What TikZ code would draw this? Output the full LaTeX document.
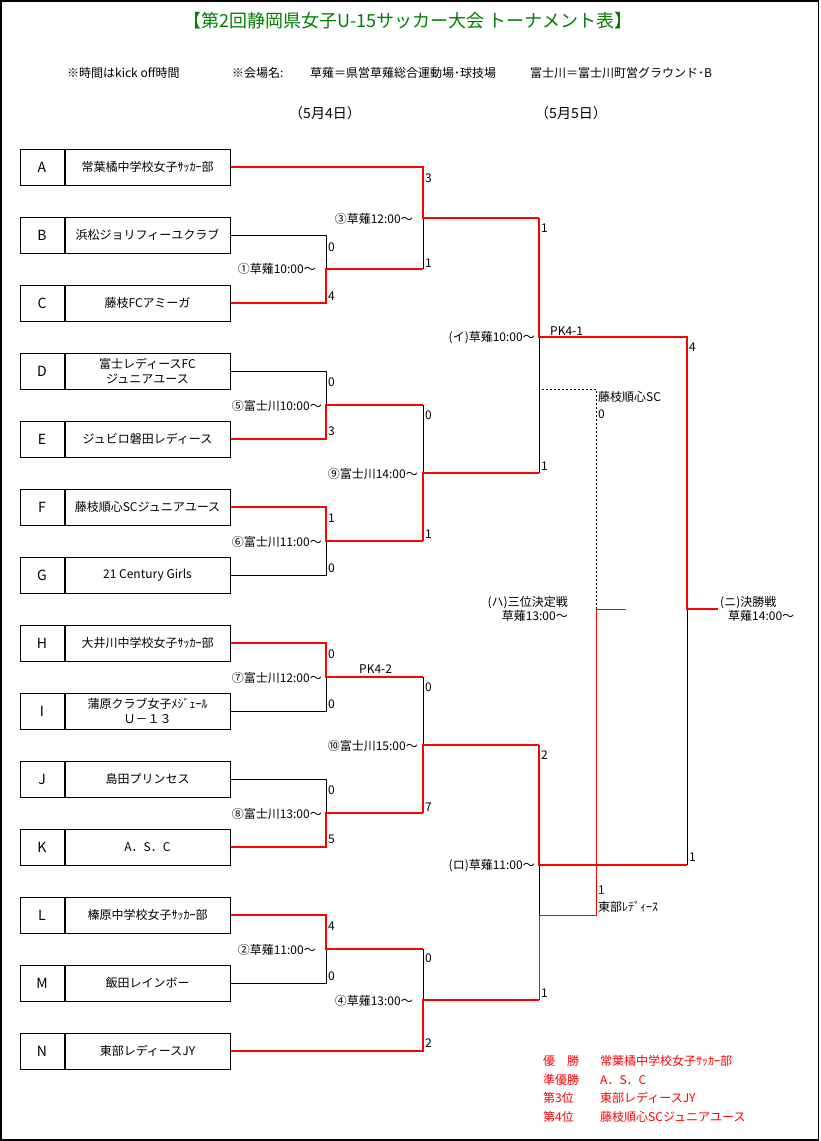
\documentclass[tikz,border=0pt]{standalone}
\usepackage{fontspec}
\newfontfamily\jpfont{Noto Sans CJK JP}
\usetikzlibrary{positioning}
\definecolor{winred}{RGB}{255,0,0}
\definecolor{titlegreen}{RGB}{0,128,0}
\tikzstyle{letter} = [rectangle, minimum width=44pt, minimum height=36pt, inner sep=0pt, draw=black, line width=1pt, font=\jpfont\fontsize{14pt}{16pt}\selectfont]
\tikzstyle{teamname} = [rectangle, minimum width=165pt, minimum height=36pt, inner sep=0pt, text centered, align=center, draw=black, line width=1pt, font=\jpfont\fontsize{12pt}{15pt}\selectfont]
\tikzstyle{win} = [line width=2pt, winred]
\tikzstyle{winthin} = [line width=1pt, winred]
\tikzstyle{lose} = [line width=1pt, black]
\tikzstyle{route} = [line width=1pt, black, dash pattern=on 2pt off 2pt]
\tikzstyle{score} = [anchor=west, inner sep=0pt, font=\jpfont\fontsize{12pt}{14pt}\selectfont]
\tikzstyle{matchlabel} = [anchor=east, inner sep=0pt, font=\jpfont\fontsize{12pt}{14pt}\selectfont]
\tikzstyle{note} = [anchor=west, inner sep=0pt, font=\jpfont\fontsize{12pt}{14pt}\selectfont]
\tikzstyle{legend} = [anchor=west, inner sep=0pt, text=winred, font=\jpfont\fontsize{12pt}{14pt}\selectfont]

\begin{document}
\begin{tikzpicture}[x=1pt, y=-1pt]
\useasboundingbox (0,0) rectangle (820,1141);
\draw [line width=1.5pt] (1,1) rectangle (818.5,1140);

% header
\node (title) [font=\jpfont\fontsize{18pt}{20pt}\selectfont, text=titlegreen] at (408,21) {【第2回静岡県女子U-15サッカー大会 トーナメント表】};
\node (kickoff) [note] at (67,73) {※時間はkick off時間};
\node (venue) [note] at (232,73) {※会場名:};
\node (kusanagi) [note] at (310,73) {草薙＝県営草薙総合運動場･球技場};
\node (fujikawa) [note] at (530,73) {富士川＝富士川町営グラウンド･B};
\node (day1) [font=\jpfont\fontsize{14pt}{16pt}\selectfont] at (325,113) {（5月4日）};
\node (day2) [font=\jpfont\fontsize{14pt}{16pt}\selectfont] at (571,113) {（5月5日）};

% teams
\node (teamA) [letter] at (42,167) {A};
\node (nameA) [teamname, right=0pt of teamA] {常葉橘中学校女子ｻｯｶｰ部};
\node (teamB) [letter] at (42,235) {B};
\node (nameB) [teamname, right=0pt of teamB] {浜松ジョリフィーユクラブ};
\node (teamC) [letter] at (42,303) {C};
\node (nameC) [teamname, right=0pt of teamC] {藤枝FCアミーガ};
\node (teamD) [letter] at (42,371) {D};
\node (nameD) [teamname, right=0pt of teamD] {富士レディースFC\\ジュニアユース};
\node (teamE) [letter] at (42,439) {E};
\node (nameE) [teamname, right=0pt of teamE] {ジュビロ磐田レディース};
\node (teamF) [letter] at (42,507) {F};
\node (nameF) [teamname, right=0pt of teamF] {藤枝順心SCジュニアユース};
\node (teamG) [letter] at (42,575) {G};
\node (nameG) [teamname, right=0pt of teamG] {21 Century Girls};
\node (teamH) [letter] at (42,643) {H};
\node (nameH) [teamname, right=0pt of teamH] {大井川中学校女子ｻｯｶｰ部};
\node (teamI) [letter] at (42,711) {I};
\node (nameI) [teamname, right=0pt of teamI] {蒲原クラブ女子ﾒｼﾞｪｰﾙ\\Ｕ－１３};
\node (teamJ) [letter] at (42,779) {J};
\node (nameJ) [teamname, right=0pt of teamJ] {島田プリンセス};
\node (teamK) [letter] at (42,847) {K};
\node (nameK) [teamname, right=0pt of teamK] {A．S．C};
\node (teamL) [letter] at (42,915) {L};
\node (nameL) [teamname, right=0pt of teamL] {榛原中学校女子ｻｯｶｰ部};
\node (teamM) [letter] at (42,983) {M};
\node (nameM) [teamname, right=0pt of teamM] {飯田レインボー};
\node (teamN) [letter] at (42,1051) {N};
\node (nameN) [teamname, right=0pt of teamN] {東部レディースJY};

% match points
\coordinate (match1) at (326,269);
\coordinate (match5) at (326,405);
\coordinate (match6) at (326,541);
\coordinate (match7) at (326,677);
\coordinate (match8) at (326,813);
\coordinate (match2) at (326,949);
\coordinate (match3) at (423,218);
\coordinate (match9) at (423,473);
\coordinate (match10) at (423,745);
\coordinate (match4) at (423,1000);
\coordinate (matchI) at (539,337);
\coordinate (matchR) at (539,865);
\coordinate (final) at (687,609);
\coordinate (champion) at (718,609);
\coordinate (third) at (596,609);
\coordinate (thirdend) at (626,609);
\coordinate (thirdN) at (539,915);
\coordinate (thirdF) at (542,389);

% first round
\draw [lose] (nameB.east) -| (match1);
\draw [win] (nameC.east) -| (match1) -- (match1 -| match3);
\draw [lose] (nameD.east) -| (match5);
\draw [win] (nameE.east) -| (match5) -- (match5 -| match9);
\draw [lose] (nameG.east) -| (match6);
\draw [win] (nameF.east) -| (match6) -- (match6 -| match9);
\draw [lose] (nameI.east) -| (match7);
\draw [win] (nameH.east) -| (match7) -- (match7 -| match10);
\draw [lose] (nameJ.east) -| (match8);
\draw [win] (nameK.east) -| (match8) -- (match8 -| match10);
\draw [lose] (nameM.east) -| (match2);
\draw [win] (nameL.east) -| (match2) -- (match2 -| match4);

% second round
\draw [lose] (match1 -| match3) -- (match3);
\draw [win] (nameA.east) -| (match3) -- (match3 -| matchI);
\draw [lose] (match5 -| match9) -- (match9);
\draw [win] (match6 -| match9) -- (match9) -- (match9 -| matchI);
\draw [lose] (match7 -| match10) -- (match10);
\draw [win] (match8 -| match10) -- (match10) -- (match10 -| matchR);
\draw [lose] (match2 -| match4) -- (match4);
\draw [win] (nameN.east) -| (match4) -- (match4 -| matchR);

% semi finals, 3rd place, final
\draw [lose] (match9 -| matchI) -- (matchI);
\draw [lose] (matchR) -- (thirdN);
\draw [route] (thirdF) -| (third);
\draw [winthin] (match4 -| matchR) -- (thirdN) -| (third) -- (thirdend);
\draw [lose] (matchR -| final) -- (final);
\draw [win] (match3 -| matchI) -- (matchI) -| (final) -- (champion);
\draw [win] (match10 -| matchR) -- (matchR) -- (matchR -| final);

% match labels
\node (label1) [matchlabel] at (316,269) {①草薙10:00～};
\node (label2) [matchlabel] at (316,950) {②草薙11:00～};
\node (label3) [matchlabel] at (413,219) {③草薙12:00～};
\node (label4) [matchlabel] at (413,1001) {④草薙13:00～};
\node (label5) [matchlabel] at (322,406) {⑤富士川10:00～};
\node (label6) [matchlabel] at (322,542) {⑥富士川11:00～};
\node (label7) [matchlabel] at (322,678) {⑦富士川12:00～};
\node (label8) [matchlabel] at (322,814) {⑧富士川13:00～};
\node (label9) [matchlabel] at (418,474) {⑨富士川14:00～};
\node (label10) [matchlabel] at (418,746) {⑩富士川15:00～};
\node (labelI) [matchlabel] at (535,338) {(イ)草薙10:00～};
\node (labelR) [matchlabel] at (535,866) {(ロ)草薙11:00～};
\node (labelthird) [matchlabel, align=right] at (568,609) {(ハ)三位決定戦\\草薙13:00～};
\node (labelfinal) [note, align=left] at (720,609) {(ニ)決勝戦\\\hspace*{8pt}草薙14:00～};
\node (pk1) [score] at (550,331) {PK4-1};
\node (pk2) [score] at (359,669) {PK4-2};
\node (thirdFname) [note] at (598,397) {藤枝順心SC};
\node (thirdNname) [note] at (598,907) {東部ﾚﾃﾞｨｰｽ};

% scores
\node (score1a) [score] at (328,247) {0};
\node (score1b) [score] at (328,296) {4};
\node (score5a) [score] at (328,382) {0};
\node (score5b) [score] at (328,431) {3};
\node (score6a) [score] at (328,518) {1};
\node (score6b) [score] at (328,568) {0};
\node (score7a) [score] at (328,654) {0};
\node (score7b) [score] at (328,704) {0};
\node (score8a) [score] at (328,790) {0};
\node (score8b) [score] at (328,839) {5};
\node (score2a) [score] at (328,926) {4};
\node (score2b) [score] at (328,976) {0};
\node (score3a) [score] at (425,178) {3};
\node (score3b) [score] at (425,263) {1};
\node (score9a) [score] at (425,415) {0};
\node (score9b) [score] at (425,534) {1};
\node (score10a) [score] at (425,687) {0};
\node (score10b) [score] at (425,807) {7};
\node (score4a) [score] at (425,958) {0};
\node (score4b) [score] at (425,1043) {2};
\node (scoreIa) [score] at (541,228) {1};
\node (scoreIb) [score] at (541,466) {1};
\node (scoreRa) [score] at (541,755) {2};
\node (scoreRb) [score] at (541,993) {1};
\node (scoreFa) [score] at (689,347) {4};
\node (scoreFb) [score] at (689,857) {1};
\node (scoreTa) [score] at (598,414) {0};
\node (scoreTb) [score] at (598,890) {1};

% result
\node (rank1) [legend] at (543,1061) {優　勝};
\node (rank1team) [legend] at (600,1061) {常葉橘中学校女子ｻｯｶｰ部};
\node (rank2) [legend] at (543,1080) {準優勝};
\node (rank2team) [legend] at (600,1080) {A．S．C};
\node (rank3) [legend] at (543,1098) {第3位};
\node (rank3team) [legend] at (600,1098) {東部レディースJY};
\node (rank4) [legend] at (543,1117) {第4位};
\node (rank4team) [legend] at (600,1117) {藤枝順心SCジュニアユース};
\end{tikzpicture}
\end{document}
